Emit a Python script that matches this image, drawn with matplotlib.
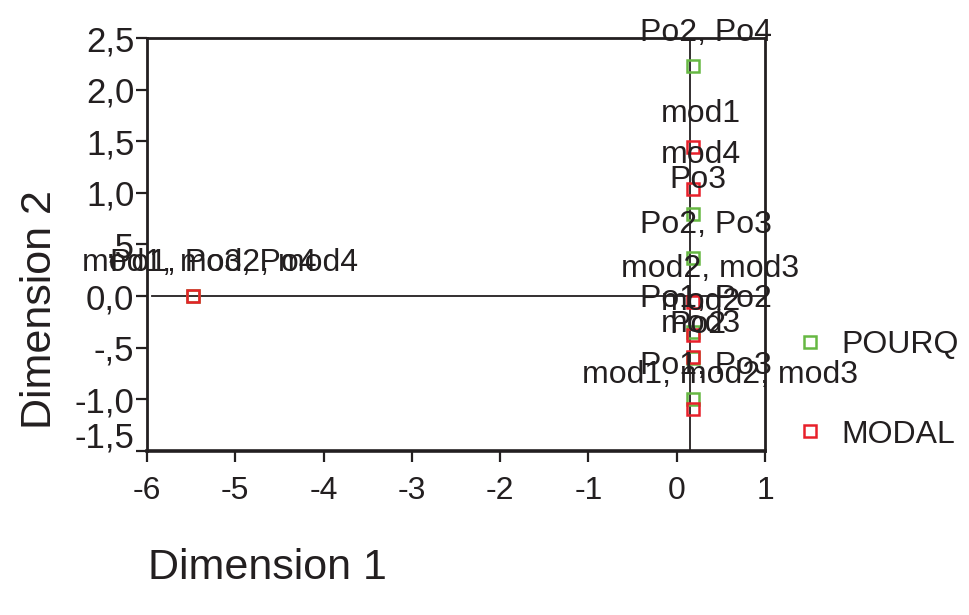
import matplotlib
matplotlib.use("Agg")
import matplotlib.pyplot as plt
import matplotlib.transforms as mtrans
from matplotlib.lines import Line2D

plt.rcParams["font.family"] = ["Liberation Sans", "DejaVu Sans"]

text_col = "#231f20"
green = "#66b843"
red = "#e8202a"

# category points (dimension 1, dimension 2)
pourq_labels = ["Po2, Po4", "Po3", "Po2, Po3", "Po1, Po2", "Po2", "Po1, Po3", "Po1, Po3, Po4"]
pourq_x = [0.18, 0.18, 0.18, 0.18, 0.18, 0.18, -5.48]
pourq_y = [2.23, 0.80, 0.37, -0.35, -0.60, -1.00, 0.00]

modal_labels = ["mod1", "mod4", "mod2, mod3", "mod2", "mod3", "mod1, mod2, mod3", "mod1, mod2, mod4"]
modal_x = [0.18, 0.18, 0.18, 0.18, 0.18, 0.18, -5.48]
modal_y = [1.44, 1.04, -0.06, -0.38, -0.59, -1.09, 0.00]

x_ticks = [-6, -5, -4, -3, -2, -1, 0, 1]
y_ticks = [-1.5, -1.0, -0.5, 0.0, 0.5, 1.0, 1.5, 2.0, 2.5]
y_tick_labels = ["-1,5", "-1,0", "-,5", "0,0", ",5", "1,0", "1,5", "2,0", "2,5"]
v_ref = 0.15
h_ref = 0.0

fig = plt.figure(figsize=(9.7, 6.15), dpi=100)
ax = fig.add_axes([0.1515, 0.2667, 0.6372, 0.6715])

ax.axhline(h_ref, xmin=0.008, xmax=1, color=text_col, lw=1.3, zorder=1)
ax.axvline(v_ref, color=text_col, lw=1.3, zorder=1)

ax.plot(pourq_x, pourq_y, "s", ms=9, mfc="none", mec=green, mew=1.8, zorder=3)
ax.plot(modal_x, modal_y, "s", ms=9, mfc="none", mec=red, mew=1.8, zorder=4)

texts = []
for lab, x, y in zip(pourq_labels + modal_labels, pourq_x + modal_x, pourq_y + modal_y):
    t = ax.annotate(lab, (x, y), xytext=(0, 24), textcoords="offset points",
                    ha="center", va="center", fontsize=23, color=text_col, zorder=5)
    texts.append(t)

ax.set_xlim(-6, 1)
ax.set_ylim(-1.5, 2.5)
ax.set_xticks(x_ticks)
ax.set_xticklabels([str(v) for v in x_ticks])
ax.set_yticks(y_ticks)
ax.set_yticklabels(y_tick_labels)
ax.tick_params(direction="out", length=8, width=1.6, colors=text_col)
ax.tick_params(axis="x", labelsize=23, pad=10)
ax.tick_params(axis="y", labelsize=25, pad=1)
for s in ax.spines.values():
    s.set_linewidth(2)
    s.set_color(text_col)
ax.spines["bottom"].set_linewidth(2.6)

# bottom y label sits a bit higher in the original
lab0 = ax.get_yticklabels()[0]
lab0.set_transform(lab0.get_transform() + mtrans.ScaledTranslation(0, 16 / 100, fig.dpi_scale_trans))

fig.text(148 / 970, 1 - 568 / 615, "Dimension 1", fontsize=31, color=text_col, ha="left", va="center")
fig.text(40 / 970, 1 - 310 / 615, "Dimension 2", fontsize=31, color=text_col, ha="center", va="center", rotation=90)

handles = [
    Line2D([], [], marker="s", ls="none", ms=9, mfc="none", mec=green, mew=1.8, label="POURQ"),
    Line2D([], [], marker="s", ls="none", ms=9, mfc="none", mec=red, mew=1.8, label="MODAL"),
]
fig.legend(handles=handles, loc="center left", bbox_to_anchor=(784 / 970, 1 - 390 / 615),
           frameon=False, fontsize=23, labelcolor=text_col, labelspacing=1.85,
           handlelength=0.8, handletextpad=0.6, borderaxespad=0)

# labels are anchored about 40% along their width, not at the middle
fig.canvas.draw()
r = fig.canvas.get_renderer()
for t in texts:
    w = t.get_window_extent(r).width
    t.xyann = (0.1 * w * 72 / fig.dpi, 24)

fig.savefig("out.png", dpi=100)
